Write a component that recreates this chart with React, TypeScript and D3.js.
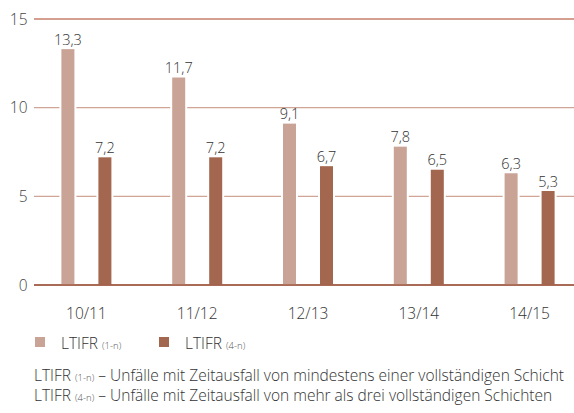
import React, { useRef, useEffect } from "react";
import * as d3 from "d3";

const categories = ["10/11", "11/12", "12/13", "13/14", "14/15"];
const ltifr1n = [13.3, 11.7, 9.1, 7.8, 6.3];
const ltifr4n = [7.2, 7.2, 6.7, 6.5, 5.3];
const yTicks = [0, 5, 10, 15];

const LIGHT = "#c9a396";
const DARK = "#a3674f";
const FONT = "'Open Sans', 'Noto Sans', sans-serif";

const App: React.FC = () => {
  const svgRef = useRef<SVGSVGElement | null>(null);

  useEffect(() => {
    if (!svgRef.current) return;
    const svg = d3.select(svgRef.current);
    svg.selectAll("*").remove();

    const x = d3.scaleBand<string>().domain(categories).range([31, 585]);
    const y = d3.scaleLinear().domain([0, 15]).range([285, 19]);
    const barW = 13;
    const off = 18.5;

    // grid lines
    svg
      .append("g")
      .selectAll("line")
      .data(yTicks)
      .join("line")
      .attr("x1", 34)
      .attr("x2", 574)
      .attr("y1", (d) => y(d))
      .attr("y2", (d) => y(d))
      .attr("stroke", (d) => (d === 0 ? "#a3614b" : d === 15 ? "#c47f69" : "#d1a595"))
      .attr("stroke-width", 1.3);

    // y tick labels
    svg
      .append("g")
      .selectAll("text")
      .data(yTicks)
      .join("text")
      .attr("x", 27.5)
      .attr("y", (d) => y(d) + 5.5)
      .attr("text-anchor", "end")
      .attr("font-family", FONT)
      .attr("font-size", 15.5)
      .attr("font-weight", 300)
      .attr("fill", "#444")
      .text((d) => d);

    const series = [
      { values: ltifr1n, color: LIGHT, dx: -off },
      { values: ltifr4n, color: DARK, dx: off },
    ];

    series.forEach((s) => {
      const g = svg.append("g");
      const bx = (i: number) => x(categories[i])! + x.bandwidth() / 2 + s.dx - barW / 2;
      // white halo that cuts the grid lines
      g.selectAll("rect.halo")
        .data(s.values)
        .join("rect")
        .attr("class", "halo")
        .attr("x", (_, i) => bx(i) - 2)
        .attr("y", (d) => y(d) - 1)
        .attr("width", barW + 4)
        .attr("height", (d) => y(0) - y(d) - 1)
        .attr("fill", "#fff");
      g.selectAll("rect.bar")
        .data(s.values)
        .join("rect")
        .attr("class", "bar")
        .attr("x", (_, i) => bx(i))
        .attr("y", (d) => y(d))
        .attr("width", barW)
        .attr("height", (d) => y(0) - y(d))
        .attr("fill", s.color);
      g.selectAll("text")
        .data(s.values)
        .join("text")
        .attr("x", (_, i) => bx(i) + barW / 2)
        .attr("y", (d) => y(d) - 4.5)
        .attr("text-anchor", "middle")
        .attr("font-family", FONT)
        .attr("font-size", 14.5)
        .attr("font-weight", 300)
        .attr("fill", "#333")
        .text((d) => d.toFixed(1).replace(".", ","));
    });

    // zero line on top
    svg
      .append("line")
      .attr("x1", 34)
      .attr("x2", 574)
      .attr("y1", y(0))
      .attr("y2", y(0))
      .attr("stroke", "#a3614b")
      .attr("stroke-width", 1.3);

    // category labels
    svg
      .append("g")
      .selectAll("text")
      .data(categories)
      .join("text")
      .attr("x", (d) => x(d)! + x.bandwidth() / 2)
      .attr("y", 319)
      .attr("text-anchor", "middle")
      .attr("font-family", FONT)
      .attr("font-size", 15.5)
      .attr("font-weight", 300)
      .attr("fill", "#333")
      .text((d) => d);

    // legend
    const legend = [
      { label: "LTIFR", sub: "(1-n)", color: LIGHT, x: 35 },
      { label: "LTIFR", sub: "(4-n)", color: DARK, x: 159 },
    ];
    legend.forEach((l) => {
      svg
        .append("rect")
        .attr("x", l.x)
        .attr("y", 337)
        .attr("width", 10)
        .attr("height", 10)
        .attr("fill", l.color);
      const t = svg
        .append("text")
        .attr("x", l.x + 26)
        .attr("y", 349)
        .attr("font-family", FONT)
        .attr("font-size", 15.5)
        .attr("font-weight", 300)
        .attr("fill", "#333");
      t.append("tspan").text(l.label + " ");
      t.append("tspan").attr("font-size", 9.5).attr("fill", "#555").text(l.sub);
    });

    // footnotes
    const notes = [
      { sub: "(1-n)", text: " – Unfälle mit Zeitausfall von mindestens einer vollständigen Schicht", y: 381 },
      { sub: "(4-n)", text: " – Unfälle mit Zeitausfall von mehr als drei vollständigen Schichten", y: 401 },
    ];
    notes.forEach((n) => {
      const t = svg
        .append("text")
        .attr("x", 34)
        .attr("y", n.y)
        .attr("font-family", FONT)
        .attr("font-size", 15.5)
        .attr("font-weight", 300)
        .attr("fill", "#333");
      t.append("tspan").text("LTIFR ");
      t.append("tspan").attr("font-size", 9.5).attr("fill", "#555").text(n.sub);
      t.append("tspan").text(n.text);
    });
  }, []);

  return (
    <svg
      ref={svgRef}
      width={574}
      height={413}
      style={{ position: "absolute", left: 0, top: 0, background: "#fff" }}
    />
  );
};

export default App;
